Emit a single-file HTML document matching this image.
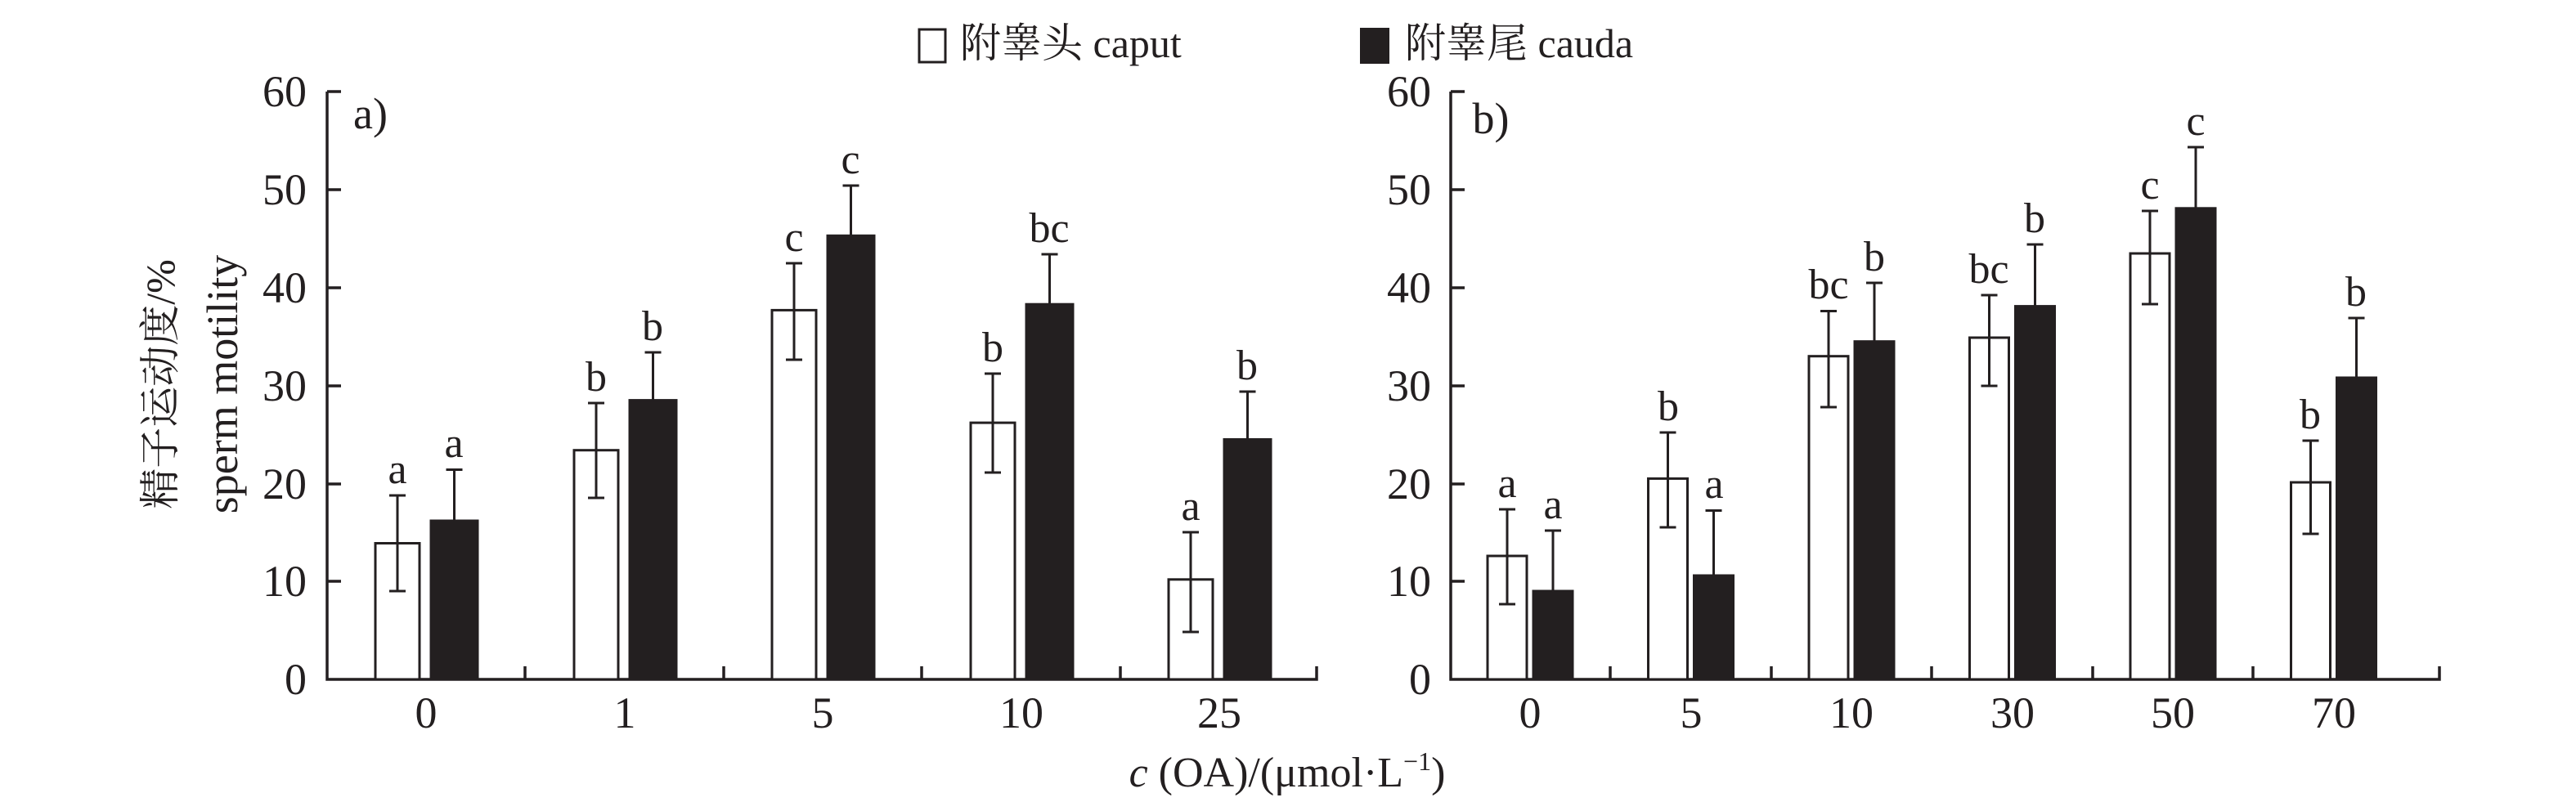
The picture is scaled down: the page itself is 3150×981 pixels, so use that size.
<!DOCTYPE html>
<html><head><meta charset="utf-8"><style>
html,body{margin:0;padding:0;background:#fff;}
svg{display:block;font-family:"Liberation Serif","Noto Serif CJK SC",serif;}
</style></head><body>
<svg width="3150" height="981" viewBox="0 0 3150 981" xmlns="http://www.w3.org/2000/svg">
<g fill="#231f20" font-size="52">
<!-- legend -->
<rect x="1124" y="36" width="32" height="40" fill="none" stroke="#231f20" stroke-width="3"/>
<text x="1174" y="70" font-size="50">附睾头 caput</text>
<rect x="1663" y="34" width="36" height="44"/>
<text x="1718" y="70" font-size="50">附睾尾 cauda</text>

<!-- y label -->
<text transform="translate(213,470) rotate(-90)" text-anchor="middle" font-size="50" font-family="'Liberation Serif','Noto Serif CJK SC',serif">精子运动度/%</text>
<text transform="translate(290,470) rotate(-90)" text-anchor="middle" font-size="54">sperm motility</text>

<!-- x label -->
<text x="1574" y="962" text-anchor="middle" font-size="52"><tspan font-style="italic">c</tspan> (OA)/(μmol·L<tspan font-size="32" dy="-20">−1</tspan><tspan dy="20">)</tspan></text>
</g>

<g stroke="#231f20" stroke-width="3.5" fill="none">
<!-- panel a axes -->
<path d="M400,112 V831 H1610 V815"/>
<path d="M400,112 H417 M400,232 H417 M400,352 H417 M400,472 H417 M400,592 H417 M400,711 H417"/>
<path d="M642,831 V815 M885,831 V815 M1127,831 V815 M1370,831 V815"/>
<!-- panel b axes -->
<path d="M1774,112 V831 H2983 V815"/>
<path d="M1774,112 H1791 M1774,232 H1791 M1774,352 H1791 M1774,472 H1791 M1774,592 H1791 M1774,711 H1791"/>
<path d="M1969,831 V815 M2166,831 V815 M2362,831 V815 M2559,831 V815 M2755,831 V815"/>
</g>

<g font-size="54" fill="#231f20" text-anchor="end">
<text x="375" y="130">60</text><text x="375" y="250">50</text><text x="375" y="370">40</text><text x="375" y="490">30</text><text x="375" y="610">20</text><text x="375" y="729">10</text><text x="375" y="849">0</text>
<text x="1750" y="130">60</text><text x="1750" y="250">50</text><text x="1750" y="370">40</text><text x="1750" y="490">30</text><text x="1750" y="610">20</text><text x="1750" y="729">10</text><text x="1750" y="849">0</text>
</g>
<g font-size="54" fill="#231f20" text-anchor="middle">
<text x="521" y="890">0</text><text x="764" y="890">1</text><text x="1006" y="890">5</text><text x="1249" y="890">10</text><text x="1491" y="890">25</text>
<text x="1871" y="890">0</text><text x="2068" y="890">5</text><text x="2264" y="890">10</text><text x="2461" y="890">30</text><text x="2657" y="890">50</text><text x="2854" y="890">70</text>
<text x="453" y="157" text-anchor="middle">a)</text>
<text x="1823" y="163" text-anchor="middle">b)</text>
</g>

<!-- panel a bars -->
<g stroke="#231f20" stroke-width="3">
<rect x="459" y="664.5" width="54" height="166.5" fill="#fff"/>
<rect x="527" y="637" width="57" height="194" fill="#231f20"/>
<rect x="702" y="550.7" width="54" height="280.3" fill="#fff"/>
<rect x="770" y="489.6" width="57" height="341.4" fill="#231f20"/>
<rect x="944" y="379.4" width="54" height="451.6" fill="#fff"/>
<rect x="1012" y="288.3" width="57" height="542.7" fill="#231f20"/>
<rect x="1187" y="517.1" width="54" height="313.9" fill="#fff"/>
<rect x="1255" y="372.2" width="57" height="458.8" fill="#231f20"/>
<rect x="1429" y="708.8" width="54" height="122.2" fill="#fff"/>
<rect x="1497" y="537.5" width="57" height="293.5" fill="#231f20"/>
</g>
<g stroke="#231f20" stroke-width="3" fill="none">
<path d="M486,606V723M476,606H496M476,723H496"/>
<path d="M555.5,637V574.5M545.5,574.5H565.5"/>
<path d="M729,493V609M719,493H739M719,609H739"/>
<path d="M798.5,489.6V431M788.5,431H808.5"/>
<path d="M971,322V440M961,322H981M961,440H981"/>
<path d="M1040.5,288V227M1030.5,227H1050.5"/>
<path d="M1214,457V578M1204,457H1224M1204,578H1224"/>
<path d="M1283.5,372V311M1273.5,311H1293.5"/>
<path d="M1456,651V773M1446,651H1466M1446,773H1466"/>
<path d="M1525.5,537V479M1515.5,479H1535.5"/>
</g>
<g font-size="52" fill="#231f20" text-anchor="middle">
<text x="486" y="591">a</text><text x="555" y="559">a</text>
<text x="729" y="478">b</text><text x="798" y="416">b</text>
<text x="971" y="307">c</text><text x="1040" y="212">c</text>
<text x="1214" y="442">b</text><text x="1283" y="296">bc</text>
<text x="1456" y="636">a</text><text x="1525" y="464">b</text>
</g>

<!-- panel b bars -->
<g stroke="#231f20" stroke-width="3">
<rect x="1819" y="680" width="48" height="151" fill="#fff"/>
<rect x="1875" y="723" width="48" height="108" fill="#231f20"/>
<rect x="2015.5" y="585.4" width="48" height="245.6" fill="#fff"/>
<rect x="2071.5" y="704" width="48" height="127" fill="#231f20"/>
<rect x="2212" y="435.7" width="48" height="395.3" fill="#fff"/>
<rect x="2268" y="417.7" width="48" height="413.3" fill="#231f20"/>
<rect x="2408.5" y="413" width="48" height="418" fill="#fff"/>
<rect x="2464.5" y="374.6" width="48" height="456.4" fill="#231f20"/>
<rect x="2605" y="310" width="48" height="521" fill="#fff"/>
<rect x="2661" y="254.8" width="48" height="576.2" fill="#231f20"/>
<rect x="2801.5" y="590" width="48" height="241" fill="#fff"/>
<rect x="2857.5" y="462" width="48" height="369" fill="#231f20"/>
</g>
<g stroke="#231f20" stroke-width="3" fill="none">
<path d="M1843,623V739M1833,623H1853M1833,739H1853"/>
<path d="M1899,723V649M1889,649H1909"/>
<path d="M2039.5,529V645M2029.5,529H2049.5M2029.5,645H2049.5"/>
<path d="M2095.5,704V624.5M2085.5,624.5H2105.5"/>
<path d="M2236,380.5V498M2226,380.5H2246M2226,498H2246"/>
<path d="M2292,418V346M2282,346H2302"/>
<path d="M2432.5,361V472M2422.5,361H2442.5M2422.5,472H2442.5"/>
<path d="M2488.5,375V299M2478.5,299H2498.5"/>
<path d="M2629,258V372M2619,258H2639M2619,372H2639"/>
<path d="M2685,255V180M2675,180H2695"/>
<path d="M2825.5,539V653M2815.5,539H2835.5M2815.5,653H2835.5"/>
<path d="M2881.5,462V389M2871.5,389H2891.5"/>
</g>
<g font-size="52" fill="#231f20" text-anchor="middle">
<text x="1843" y="608">a</text><text x="1899" y="634">a</text>
<text x="2040" y="514">b</text><text x="2096" y="609">a</text>
<text x="2236" y="365">bc</text><text x="2292" y="331">b</text>
<text x="2432" y="346">bc</text><text x="2488" y="284">b</text>
<text x="2629" y="243">c</text><text x="2685" y="165">c</text>
<text x="2825" y="524">b</text><text x="2881" y="374">b</text>
</g>
</svg>
</body></html>
